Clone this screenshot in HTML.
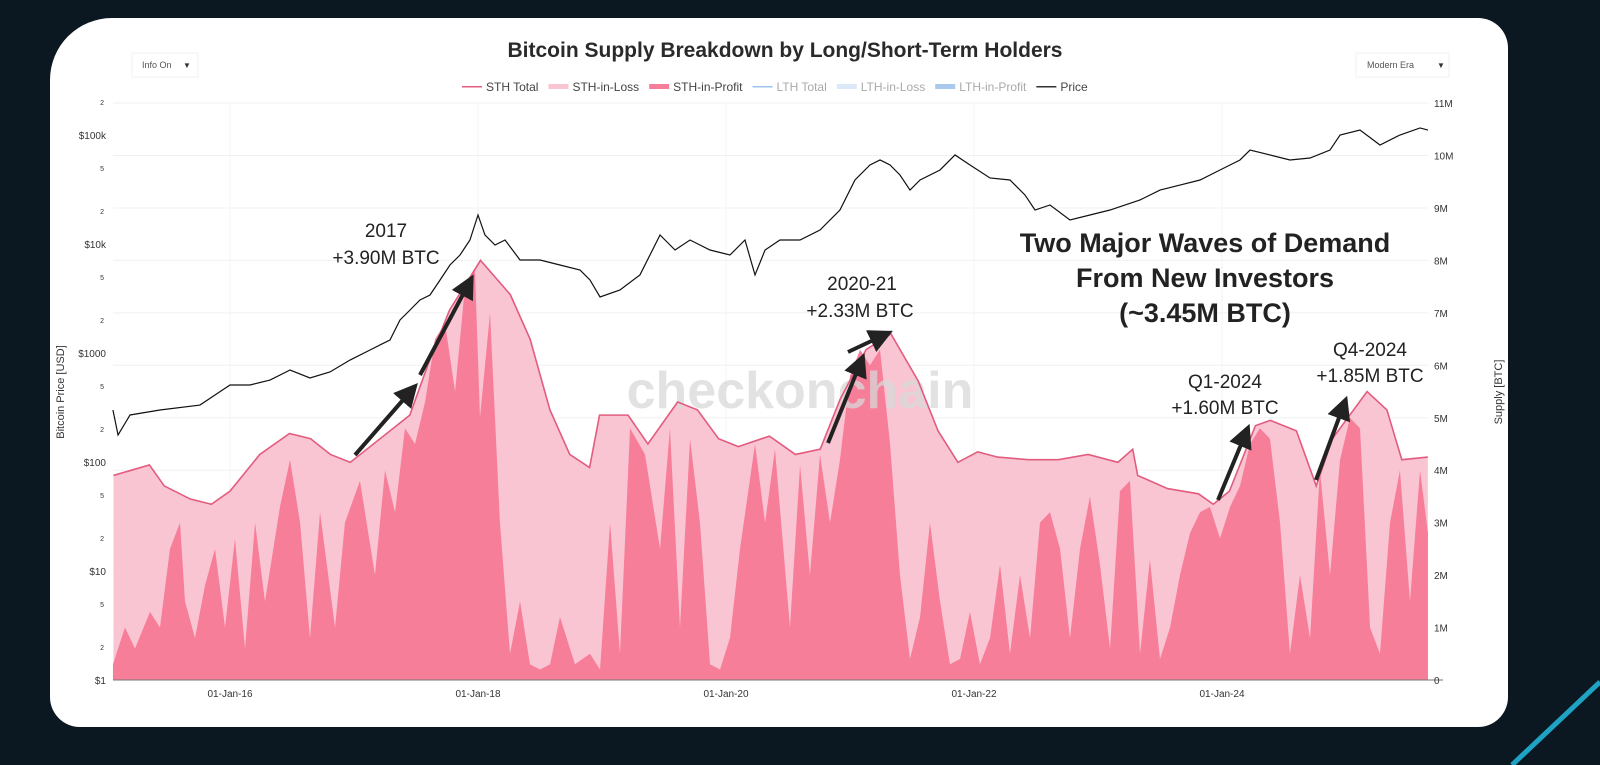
<!DOCTYPE html>
<html><head><meta charset="utf-8"><style>
html,body{margin:0;padding:0;width:1600px;height:765px;overflow:hidden}
body{background:#0b1822;font-family:"Liberation Sans",sans-serif;position:relative}
#card{position:absolute;left:50px;top:18px;width:1458px;height:709px;background:#fff;border-radius:62px 30px 30px 30px}
#chart{position:absolute;left:0;top:0;display:block}
</style></head><body>
<div id="card"></div>
<svg id="chart" width="1600" height="765" viewBox="0 0 1600 765" overflow="hidden">
<line x1="1512" y1="765" x2="1600" y2="682" stroke="#1fa3c4" stroke-width="5"/>
<text x="785" y="57" text-anchor="middle" font-size="21" font-weight="bold" fill="#2a2a2a">Bitcoin Supply Breakdown by Long/Short-Term Holders</text>
<g><rect x="132" y="53" width="66" height="24" fill="#fff" stroke="#f2f2f2"/><text x="142" y="68" font-size="9" fill="#555">Info On</text><text x="183" y="68" font-size="8" fill="#333">▼</text></g>
<g><rect x="1356" y="53" width="93" height="24" fill="#fff" stroke="#f2f2f2"/><text x="1367" y="68" font-size="9" fill="#555">Modern Era</text><text x="1437" y="68" font-size="8" fill="#333">▼</text></g>
<g id="legend" font-size="12"></g>
<g id="grid"></g>
<g id="areas"></g>
<text x="800" y="408" text-anchor="middle" font-size="52" font-weight="bold" fill="#d8d8d8" fill-opacity="0.75">checkonchain</text>
<g id="lines"></g>
<g id="axes" font-size="10" fill="#333"></g>
<text transform="translate(64,392) rotate(-90)" text-anchor="middle" font-size="11" fill="#333">Bitcoin Price [USD]</text>
<text transform="translate(1502,392) rotate(-90)" text-anchor="middle" font-size="11" fill="#333">Supply [BTC]</text>
<g font-size="19" fill="#222" text-anchor="middle">
<text x="386" y="237">2017</text><text x="386" y="264">+3.90M BTC</text>
<text x="862" y="290">2020-21</text><text x="860" y="317">+2.33M BTC</text>
<text x="1225" y="388">Q1-2024</text><text x="1225" y="414">+1.60M BTC</text>
<text x="1370" y="356">Q4-2024</text><text x="1370" y="382">+1.85M BTC</text>
<g font-size="27" font-weight="bold"><text x="1205" y="252">Two Major Waves of Demand</text><text x="1205" y="287">From New Investors</text><text x="1205" y="322">(~3.45M BTC)</text></g>
</g>
<defs><marker id="ah" markerWidth="6" markerHeight="6" refX="3" refY="3" orient="auto"><path d="M0,0 L6,3 L0,6 z" fill="#222"/></marker></defs>
<g stroke="#222" stroke-width="4" marker-end="url(#ah)">
<line x1="355" y1="455" x2="410" y2="392"/><line x1="420" y1="375" x2="468" y2="285"/>
<line x1="828" y1="443" x2="860" y2="364"/><line x1="848" y1="352" x2="882" y2="336"/>
<line x1="1218" y1="500" x2="1245" y2="435"/><line x1="1316" y1="480" x2="1343" y2="407"/>
</g>
</svg>
<script>
const sthDates=[2015.06,2015.35,2015.47,2015.68,2015.85,2016.0,2016.24,2016.48,2016.65,2016.81,2016.97,2017.21,2017.45,2017.61,2017.77,2018.02,2018.26,2018.42,2018.58,2018.74,2018.9,2018.98,2019.21,2019.37,2019.61,2019.77,2019.94,2020.1,2020.35,2020.56,2020.76,2020.92,2021.13,2021.33,2021.55,2021.71,2021.87,2022.03,2022.19,2022.44,2022.68,2022.92,2023.16,2023.28,2023.32,2023.56,2023.81,2023.93,2024.06,2024.27,2024.39,2024.6,2024.76,2024.89,2025.17,2025.33,2025.45,2025.66];
const sthTotal=[3.9,4.1,3.7,3.45,3.35,3.6,4.3,4.7,4.6,4.3,4.15,4.6,5.05,6.1,7.05,8.0,7.35,6.5,5.15,4.3,4.05,5.05,5.05,4.5,5.3,5.15,4.6,4.45,4.65,4.3,4.4,5.35,6.3,6.6,5.7,4.75,4.15,4.35,4.25,4.2,4.2,4.3,4.15,4.4,3.9,3.65,3.55,3.35,3.6,4.85,4.95,4.75,3.7,4.6,5.5,5.15,4.2,4.25];
const profitX=[113,125,135,150,160,170,180,185,195,205,215,225,235,245,255,265,280,290,300,310,320,335,345,360,375,385,395,405,415,425,435,445,455,465,475,480,490,500,510,520,530,540,550,560,575,590,600,610,620,630,645,660,670,680,690,700,710,720,730,740,755,765,775,790,800,810,820,830,840,850,860,870,880,890,900,910,920,930,940,950,960,970,980,990,1000,1010,1020,1030,1040,1050,1060,1070,1080,1090,1100,1110,1120,1130,1140,1150,1160,1170,1180,1190,1200,1210,1220,1230,1240,1250,1260,1270,1280,1290,1300,1310,1320,1330,1340,1350,1360,1370,1380,1390,1400,1410,1420,1428];
const profitDates=profitX.map(x=>+(2016+(x-230)/124).toFixed(3));
const sthProfit=[0.3,1.0,0.6,1.3,1.0,2.5,3.0,1.5,0.8,1.8,2.5,1.0,2.7,0.6,3.0,1.5,3.3,4.2,3.0,0.8,3.2,1.0,3.0,3.8,2.0,4.0,3.2,4.8,4.5,5.3,6.5,6.8,5.5,7.5,7.8,5.0,7.0,3.0,0.5,1.5,0.3,0.2,0.3,1.2,0.3,0.5,0.2,3.0,0.5,4.8,4.3,2.5,4.8,1.0,4.6,3.0,0.3,0.2,0.8,2.5,4.5,3.0,4.4,1.0,4.1,2.0,4.3,3.0,4.2,5.8,6.3,6.0,6.3,4.5,2.0,0.4,1.2,3.0,1.5,0.3,0.4,1.3,0.3,0.8,2.2,0.5,2.0,0.8,3.0,3.2,2.5,0.8,2.5,3.5,2.2,0.6,3.6,3.8,0.5,2.3,0.4,1.0,2.0,2.8,3.2,3.3,2.7,3.3,3.7,4.5,4.8,4.6,3.0,0.5,2.0,0.8,4.0,2.0,4.2,5.0,4.8,1.0,0.5,3.0,4.0,1.5,4.0,2.8];
const priceX=[113,118,130,160,200,215,230,250,270,290,310,330,350,370,390,400,410,420,430,440,450,460,470,478,485,495,505,520,540,560,580,590,600,620,640,660,675,690,710,730,745,755,765,780,800,820,840,855,870,880,890,900,910,920,940,955,970,990,1010,1025,1035,1050,1070,1090,1110,1140,1160,1180,1200,1220,1240,1250,1270,1290,1310,1330,1340,1360,1380,1400,1420,1428];
const priceDates=priceX.map(x=>+(2016+(x-230)/124).toFixed(3));
const prices=[300,177,270,300,333,412,509,509,565,698,590,670,862,1066,1316,2008,2480,3063,3404,4675,6417,7925,10880,18460,12100,9790,10880,7130,7130,6417,5770,4675,3265,3790,5200,12100,8810,10880,8810,7925,10880,5200,8810,10880,10880,13430,20500,38650,53100,59000,53100,42950,31270,38650,47760,65600,53100,40350,38650,28180,20500,22800,16600,18460,20500,25350,31270,34760,38650,47760,59000,72800,65600,59000,61500,72800,100000,111000,80900,100000,116000,111000];
const xTicks=[2016,2018,2020,2022,2024];
const xTickLabels=["01-Jan-16","01-Jan-18","01-Jan-20","01-Jan-22","01-Jan-24"];
const supplyTicks=[0,1,2,3,4,5,6,7,8,9,10,11];
const priceTicks=[1,10,100,1000,10000,100000];
const priceTickLabels=["$1","$10","$100","$1000","$10k","$100k"];

const X0=113,X1=1428,YB=680;
const xs=d=>230+(d-2016)*124;
const ys=v=>YB-v*52.45;
const yp=p=>YB-Math.log10(p)*109;
const NS="http://www.w3.org/2000/svg";
function mk(t,a,parent){const e=document.createElementNS(NS,t);for(const k in a)e.setAttribute(k,a[k]);parent.appendChild(e);return e;}
const grid=document.getElementById('grid'),areas=document.getElementById('areas'),lines=document.getElementById('lines'),axes=document.getElementById('axes');
supplyTicks.forEach(v=>{const l=mk('line',{x1:X0,x2:X1,y1:ys(v),y2:ys(v),stroke:'#f0f0f0'},grid);

});
xTicks.forEach(d=>{const l=mk('line',{x1:xs(d),x2:xs(d),y1:103,y2:YB,stroke:'#f3f3f3'},grid);

});
let dT='M'+xs(sthDates[0])+','+YB;sthDates.forEach((d,i)=>dT+=' L'+xs(d)+','+ys(sthTotal[i]));dT+=' L'+xs(sthDates[sthDates.length-1])+','+YB+'Z';
const a1=mk('path',{d:dT,fill:'#fac5d3'},areas);


let dP='M'+xs(profitDates[0])+','+YB;profitDates.forEach((d,i)=>dP+=' L'+xs(d)+','+ys(sthProfit[i]));dP+=' L'+xs(profitDates[profitDates.length-1])+','+YB+'Z';
const a2=mk('path',{d:dP,fill:'#f77e99'},areas);


const l1=mk('polyline',{points:sthDates.map((d,i)=>xs(d)+','+ys(sthTotal[i])).join(' '),fill:'none',stroke:'#e25c7e','stroke-width':1.6},lines);


const l2=mk('polyline',{points:priceDates.map((d,i)=>xs(d)+','+yp(prices[i])).join(' '),fill:'none',stroke:'#111','stroke-width':1.2},lines);


const ax=mk('line',{x1:X0,x2:X1+15,y1:YB,y2:YB,stroke:'#777'},axes);


xTicks.forEach((d,i)=>{const t=mk('text',{x:xs(d),y:YB+17,'text-anchor':'middle'},axes);t.textContent=xTickLabels[i];

});
supplyTicks.forEach(v=>{const t=mk('text',{x:1434,y:ys(v)+4},axes);t.textContent=v===0?'0':v+'M';

});
priceTicks.forEach((p,i)=>{const t=mk('text',{x:106,y:yp(p)+4,'text-anchor':'end'},axes);t.textContent=priceTickLabels[i];


[2,5].forEach(m=>{if(p*m<=200000){const s=mk('text',{x:104,y:yp(p*m)+3,'text-anchor':'end','font-size':7},axes);s.textContent=m;

}});});
const legendItems=[["STH Total","#e25c7e","line","#444"],["STH-in-Loss","#fac5d3","box","#444"],["STH-in-Profit","#f77e99","box","#444"],["LTH Total","#9cc3ec","line","#aaa"],["LTH-in-Loss","#dbe9f8","box","#aaa"],["LTH-in-Profit","#a9c9ef","box","#aaa"],["Price","#333","line","#444"]];
const lg=document.getElementById('legend');let lx=462;
legendItems.forEach(it=>{mk('rect',{x:lx,y:it[2]=='line'?86:84,width:20,height:it[2]=='line'?1.5:5,fill:it[1]},lg);
const t=mk('text',{x:lx+24,y:91,fill:it[3]},lg);t.textContent=it[0];


lx+=24+t.getComputedTextLength()+10;});
</script>
</body></html>
